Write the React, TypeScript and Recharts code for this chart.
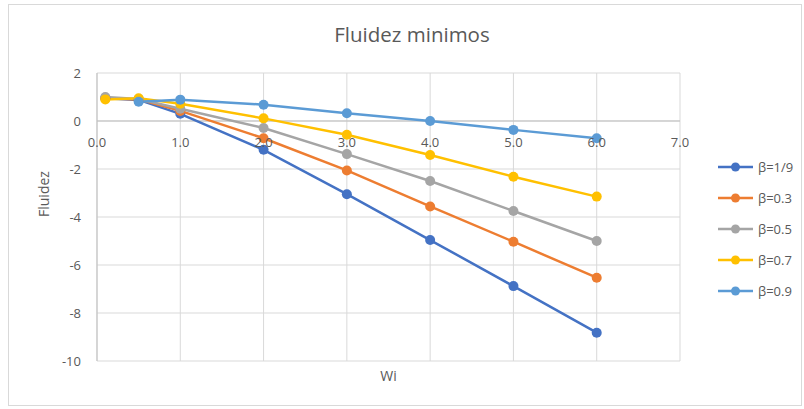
import React from 'react';
import {
  LineChart,
  Line,
  XAxis,
  YAxis,
  CartesianGrid,
  ReferenceLine,
} from 'recharts';

const wi = [0.1, 0.5, 1, 2, 3, 4, 5, 6];
const beta19 = [0.95, 0.88, 0.3, -1.2, -3.05, -4.96, -6.88, -8.82];
const beta03 = [0.95, 0.9, 0.42, -0.72, -2.06, -3.56, -5.03, -6.53];
const beta05 = [1.0, 0.92, 0.51, -0.29, -1.38, -2.5, -3.75, -5.0];
const beta07 = [0.9, 0.95, 0.72, 0.11, -0.57, -1.42, -2.32, -3.15];
const beta09 = [null, 0.8, 0.89, 0.68, 0.32, 0.0, -0.37, -0.72];

const xTicks = [0, 1, 2, 3, 4, 5, 6, 7];
const yTicks = [-10, -8, -6, -4, -2, 0, 2];

const series = [
  { key: 'b19', name: 'β=1/9', color: '#4472C4', values: beta19 },
  { key: 'b03', name: 'β=0.3', color: '#ED7D31', values: beta03 },
  { key: 'b05', name: 'β=0.5', color: '#A5A5A5', values: beta05 },
  { key: 'b07', name: 'β=0.7', color: '#FFC000', values: beta07 },
  { key: 'b09', name: 'β=0.9', color: '#5B9BD5', values: beta09 },
];

const data = wi.map((x, i) => {
  const row: Record<string, number | null> = { wi: x };
  series.forEach((s) => {
    row[s.key] = s.values[i];
  });
  return row;
});

const W = 804;
const H = 409;
const X_AXIS_H = 48;
const MARGIN = { top: 73, right: 124, bottom: 0, left: 0 };
const Y_MIN = -10;
const Y_MAX = 2;
const FONT = '"Open Sans", sans-serif';
const TEXT = '#595959';
const GRID = '#d9d9d9';

// x labels sit under the zero line, not at the bottom of the plot
const plotH = H - MARGIN.top - X_AXIS_H;
const zeroY = MARGIN.top + (plotH * Y_MAX) / (Y_MAX - Y_MIN);

function XTick(props: any) {
  const { x, payload } = props;
  return (
    <text
      x={x}
      y={zeroY + 26}
      textAnchor="middle"
      fill={TEXT}
      fontSize={13}
      fontFamily={FONT}
    >
      {Number(payload.value).toFixed(1)}
    </text>
  );
}

function LegendBox() {
  return (
    <div
      style={{
        position: 'absolute',
        left: 715,
        top: 151,
        fontFamily: FONT,
        fontSize: 13,
        color: TEXT,
      }}
    >
      {series.map((s) => (
        <div
          key={s.key}
          style={{ display: 'flex', alignItems: 'center', height: 31 }}
        >
          <svg width={40} height={12}>
            <line x1={3} y1={6} x2={38} y2={6} stroke={s.color} strokeWidth={2.5} />
            <circle cx={20.5} cy={6} r={4.5} fill={s.color} />
          </svg>
          <span style={{ marginLeft: 3 }}>{s.name}</span>
        </div>
      ))}
    </div>
  );
}

export default function App() {
  return (
    <div
      style={{
        position: 'absolute',
        left: 0,
        top: 0,
        width: W,
        height: H,
        background: '#fff',
      }}
    >
      <div
        style={{
          position: 'absolute',
          left: 8,
          top: 4,
          width: 794,
          height: 402,
          border: `1px solid ${GRID}`,
          boxSizing: 'border-box',
        }}
      />
      <div
        style={{
          position: 'absolute',
          left: 0,
          top: 20,
          width: 824,
          textAlign: 'center',
          fontFamily: FONT,
          fontSize: 20.5,
          color: TEXT,
        }}
      >
        Fluidez minimos
      </div>
      <LineChart width={W} height={H} data={data} margin={MARGIN}>
        <CartesianGrid stroke={GRID} strokeWidth={1} />
        <XAxis
          dataKey="wi"
          type="number"
          domain={[0, 7]}
          ticks={xTicks}
          axisLine={false}
          tickLine={false}
          tick={<XTick />}
          height={X_AXIS_H}
          label={{
            value: 'Wi',
            position: 'insideTop',
            offset: 10,
            fill: TEXT,
            fontSize: 14,
            fontFamily: FONT,
          }}
        />
        <YAxis
          type="number"
          domain={[Y_MIN, Y_MAX]}
          ticks={yTicks}
          width={97}
          axisLine={{ stroke: '#bfbfbf' }}
          tickLine={false}
          tickMargin={10}
          tick={{ fill: TEXT, fontSize: 13, fontFamily: FONT }}
          label={{
            value: 'Fluidez',
            angle: -90,
            position: 'insideLeft',
            offset: 44,
            fill: TEXT,
            fontSize: 14,
            fontFamily: FONT,
          }}
        />
        <ReferenceLine y={0} stroke="#bfbfbf" strokeWidth={1} />
        {series.map((s) => (
          <Line
            key={s.key}
            dataKey={s.key}
            name={s.name}
            type="linear"
            stroke={s.color}
            strokeWidth={2.5}
            dot={{ r: 5, fill: s.color, stroke: s.color, strokeWidth: 0 }}
            activeDot={false}
            connectNulls={false}
            isAnimationActive={false}
          />
        ))}
      </LineChart>
      <LegendBox />
    </div>
  );
}
